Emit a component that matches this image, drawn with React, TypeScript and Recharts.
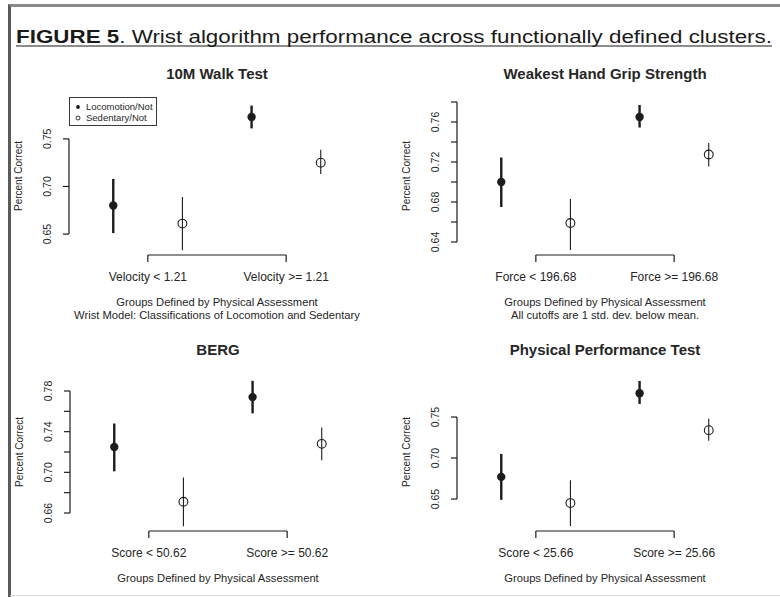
import React from 'react'
import { ScatterChart, Scatter, XAxis, YAxis, ErrorBar, ReferenceLine, Legend, Label } from 'recharts'

// category positions on the x axis (two groups per panel)
const groups = [1, 2]

// each stat row: [mean, lower, upper]
const walkLabels = ['Velocity < 1.21', 'Velocity >= 1.21']
const walkLoc = [[0.68, 0.651, 0.708], [0.773, 0.761, 0.785]]
const walkSed = [[0.661, 0.633, 0.689], [0.725, 0.713, 0.7385]]
const walkTicks = [0.65, 0.7, 0.75]
const walkTickLabels = [0.65, 0.7, 0.75]

const gripLabels = ['Force < 196.68', 'Force >= 196.68']
const gripLoc = [[0.7, 0.675, 0.7245], [0.765, 0.7545, 0.777]]
const gripSed = [[0.659, 0.632, 0.683], [0.7275, 0.7156, 0.739]]
const gripTicks = [0.64, 0.66, 0.68, 0.7, 0.72, 0.74, 0.76, 0.78]
const gripTickLabels = [0.64, 0.68, 0.72, 0.76]

const bergLabels = ['Score < 50.62', 'Score >= 50.62']
const bergLoc = [[0.725, 0.701, 0.748], [0.774, 0.758, 0.79]]
const bergSed = [[0.671, 0.647, 0.695], [0.728, 0.712, 0.744]]
const bergTicks = [0.66, 0.68, 0.7, 0.72, 0.74, 0.76, 0.78]
const bergTickLabels = [0.66, 0.7, 0.74, 0.78]

const pptLabels = ['Score < 25.66', 'Score >= 25.66']
const pptLoc = [[0.677, 0.649, 0.705], [0.779, 0.766, 0.794]]
const pptSed = [[0.645, 0.617, 0.673], [0.734, 0.721, 0.748]]
const pptTicks = [0.65, 0.7, 0.75]
const pptTickLabels = [0.65, 0.7, 0.75]

const FONT = '"Liberation Sans", Arial, Helvetica, sans-serif'
const INK = '#1c1c1c'
const TEXT = '#262626'

const toPoints = (stats: number[][], offset: number) =>
  stats.map((s, i) => ({ x: groups[i] + offset, y: s[0], err: [s[0] - s[1], s[2] - s[0]] }))

const W = 390
const H = 265
const PLOT_TOP = 37
const PLOT_W = 296
const PLOT_H = 158
const X_DOMAIN = [0.43, 2.57]

interface PanelProps {
  left: number
  top: number
  axisLeft: number
  title: string
  labels: string[]
  loc: number[][]
  sed: number[][]
  ticks: number[]
  tickLabels: number[]
  yDomain: number[]
  xTitle: string[]
  showLegend?: boolean
}

function LegendBox() {
  return (
    <div
      style={{
        border: '1px solid #3a3a3a',
        width: 88,
        height: 29,
        boxSizing: 'border-box',
        fontFamily: FONT,
        fontSize: 9.5,
        color: TEXT,
        paddingTop: 3,
        paddingLeft: 3,
        lineHeight: '11px',
        background: '#fff',
        whiteSpace: 'nowrap'
      }}
    >
      <div style={{ display: 'flex', alignItems: 'center', height: 11 }}>
        <svg width={12} height={10}>
          <circle cx={5} cy={5} r={1.9} fill={INK} />
        </svg>
        <span style={{ marginLeft: 1 }}>Locomotion/Not</span>
      </div>
      <div style={{ display: 'flex', alignItems: 'center', height: 11 }}>
        <svg width={12} height={10}>
          <circle cx={5} cy={5} r={2} fill="none" stroke={INK} strokeWidth={0.9} />
        </svg>
        <span style={{ marginLeft: 1 }}>Sedentary/Not</span>
      </div>
    </div>
  )
}

function Panel({ left, top, axisLeft, title, labels, loc, sed, ticks, tickLabels, yDomain, xTitle, showLegend }: PanelProps) {
  const locData = toPoints(loc, -0.25)
  const sedData = toPoints(sed, 0.25)
  const xMin = X_DOMAIN[0]
  const yMin = yDomain[0]

  return (
    <div style={{ position: 'absolute', left, top, width: W, height: H }}>
      <div
        style={{
          position: 'absolute',
          left: axisLeft,
          top: 5,
          width: PLOT_W,
          textAlign: 'center',
          fontFamily: FONT,
          fontWeight: 'bold',
          fontSize: 15,
          lineHeight: '18px',
          color: TEXT
        }}
      >
        {title}
      </div>
      <ScatterChart
        width={W}
        height={H}
        margin={{ top: PLOT_TOP, right: W - axisLeft - PLOT_W, bottom: 0, left: 0 }}
        style={{ fontFamily: FONT }}
      >
        <XAxis
          type="number"
          dataKey="x"
          domain={X_DOMAIN}
          ticks={groups}
          interval={0}
          allowDataOverflow
          axisLine={false}
          tickLine={{ stroke: INK, strokeWidth: 1.2 }}
          tickSize={7}
          tickMargin={15}
          height={H - PLOT_TOP - PLOT_H}
          tick={(p: any) => (
            <text x={p.x} y={p.y} dy="0.35em" textAnchor="middle" fontSize={12} fill={TEXT} fontFamily={FONT}>
              {labels[groups.indexOf(p.payload.value)]}
            </text>
          )}
        >
          <Label
            content={() => (
              <g>
                {xTitle.map((t, i) => (
                  <text
                    key={t}
                    x={axisLeft + PLOT_W / 2}
                    y={PLOT_TOP + PLOT_H + 47 + i * 13}
                    dy="0.35em"
                    textAnchor="middle"
                    fontSize={11.2}
                    fill={TEXT}
                    fontFamily={FONT}
                  >
                    {t}
                  </text>
                ))}
              </g>
            )}
          />
        </XAxis>
        <YAxis
          type="number"
          dataKey="y"
          domain={yDomain}
          ticks={ticks}
          interval={0}
          allowDataOverflow
          axisLine={false}
          tickLine={{ stroke: INK, strokeWidth: 1.2 }}
          tickSize={6}
          tickMargin={16}
          width={axisLeft}
          tick={(p: any) => (
            <g transform={`translate(${p.x},${p.y}) rotate(-90)`}>
              <text x={0} y={0} dy="0.35em" textAnchor="middle" fontSize={10.5} fill={TEXT} fontFamily={FONT}>
                {tickLabels.some((t) => Math.abs(t - p.payload.value) < 1e-6) ? p.payload.value.toFixed(2) : ''}
              </text>
            </g>
          )}
        >
          <Label
            content={() => (
              <g transform={`translate(${axisLeft - 51},${PLOT_TOP + PLOT_H / 2}) rotate(-90)`}>
                <text x={0} y={0} dy="0.35em" textAnchor="middle" fontSize={10} fill={TEXT} fontFamily={FONT}>
                  Percent Correct
                </text>
              </g>
            )}
          />
        </YAxis>
        <ReferenceLine
          segment={[{ x: xMin, y: ticks[0] }, { x: xMin, y: ticks[ticks.length - 1] }]}
          stroke={INK}
          strokeWidth={1.2}
          ifOverflow="visible"
        />
        <ReferenceLine
          segment={[{ x: groups[0], y: yMin }, { x: groups[1], y: yMin }]}
          stroke={INK}
          strokeWidth={1.2}
          ifOverflow="visible"
        />
        <Scatter
          name="Locomotion/Not"
          data={locData}
          isAnimationActive={false}
          shape={(p: any) => <circle cx={p.cx} cy={p.cy} r={4.2} fill={INK} />}
        >
          <ErrorBar dataKey="err" direction="y" width={0} stroke={INK} strokeWidth={2.4} isAnimationActive={false} />
        </Scatter>
        <Scatter
          name="Sedentary/Not"
          data={sedData}
          isAnimationActive={false}
          shape={(p: any) => <circle cx={p.cx} cy={p.cy} r={4.4} fill="none" stroke={INK} strokeWidth={1.1} />}
        >
          <ErrorBar dataKey="err" direction="y" width={0} stroke={INK} strokeWidth={1.1} isAnimationActive={false} />
        </Scatter>
        {showLegend && (
          <Legend
            layout="vertical"
            align="center"
            verticalAlign="middle"
            content={() => <LegendBox />}
            wrapperStyle={{ left: 69, top: 37, width: 88, height: 29 }}
          />
        )}
      </ScatterChart>
    </div>
  )
}

export default function App() {
  return (
    <div
      style={{
        position: 'absolute',
        left: 0,
        top: 0,
        width: 780,
        height: 597,
        background: '#fff',
        overflow: 'hidden',
        fontFamily: FONT
      }}
    >
      {/* scan frame */}
      <div style={{ position: 'absolute', left: 8, top: 4, width: 780, height: 600, borderTop: '3px solid #8a8a8a', borderLeft: '3px solid #5a5a5a' }} />
      <div style={{ position: 'absolute', left: 10, top: 595, width: 770, height: 1, background: '#d8d8d8' }} />

      <svg style={{ position: 'absolute', left: 0, top: 0 }} width={780} height={56}>
        <text x={16} y={43} fontSize={17.5} fill="#1a1a1a" fontFamily={FONT} textLength={756} lengthAdjust="spacingAndGlyphs">
          <tspan fontWeight="bold">FIGURE 5</tspan>
          <tspan>. Wrist algorithm performance across functionally defined clusters.</tspan>
        </text>
        <line x1={16} x2={772} y1={46} y2={46} stroke="#1a1a1a" strokeWidth={1.2} />
      </svg>

      <Panel
        left={0}
        top={60}
        axisLeft={69}
        title="10M Walk Test"
        labels={walkLabels}
        loc={walkLoc}
        sed={walkSed}
        ticks={walkTicks}
        tickLabels={walkTickLabels}
        yDomain={[0.628, 0.794]}
        xTitle={['Groups Defined by Physical Assessment', 'Wrist Model: Classifications of Locomotion and Sedentary']}
        showLegend
      />
      <Panel
        left={390}
        top={60}
        axisLeft={67}
        title="Weakest Hand Grip Strength"
        labels={gripLabels}
        loc={gripLoc}
        sed={gripSed}
        ticks={gripTicks}
        tickLabels={gripTickLabels}
        yDomain={[0.627, 0.785]}
        xTitle={['Groups Defined by Physical Assessment', 'All cutoffs are 1 std. dev. below mean.']}
      />
      <Panel
        left={0}
        top={336}
        axisLeft={70}
        title="BERG"
        labels={bergLabels}
        loc={bergLoc}
        sed={bergSed}
        ticks={bergTicks}
        tickLabels={bergTickLabels}
        yDomain={[0.6423, 0.7977]}
        xTitle={['Groups Defined by Physical Assessment']}
      />
      <Panel
        left={390}
        top={336}
        axisLeft={67}
        title="Physical Performance Test"
        labels={pptLabels}
        loc={pptLoc}
        sed={pptSed}
        ticks={pptTicks}
        tickLabels={pptTickLabels}
        yDomain={[0.611, 0.8037]}
        xTitle={['Groups Defined by Physical Assessment']}
      />
    </div>
  )
}
